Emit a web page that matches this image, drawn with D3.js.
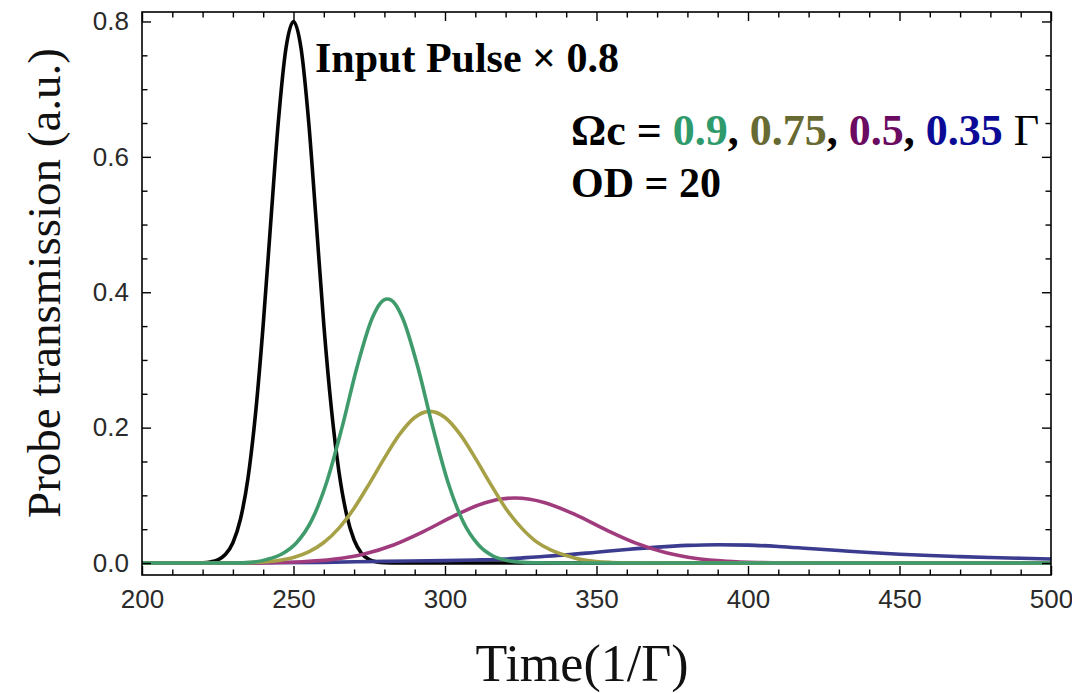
<!DOCTYPE html>
<html>
<head>
<meta charset="utf-8">
<script src="https://cdn.jsdelivr.net/npm/d3@7"></script>
<style>
  body { margin: 0; background: #fff; }
  svg { display: block; }
  .tick text { font-family: "Liberation Sans", Arial, sans-serif; font-size: 26px; fill: #2a2a2a; }
  .tick line { stroke: #000; stroke-width: 1.4; }
  .axisTitle { font-family: "Liberation Serif", "Times New Roman", serif; fill: #111; }
  .note { font-family: "Liberation Serif", "Times New Roman", serif; font-weight: bold; fill: #000; }
</style>
</head>
<body>
<div class="visualization"></div>
<script>
const canvaswidth = 1072;
const canvasheight = 693;
const plotleft = 142;
const plotright = 1051;
const plottop = 12;
const plotbottom = 575;

// x ticks (time in 1/Gamma) and y ticks (transmission)
const xMajorTicks = [200, 250, 300, 350, 400, 450, 500];
const xMinorTicks = [210, 220, 230, 240, 260, 270, 280, 290, 310, 320, 330, 340, 360, 370, 380, 390, 410, 420, 430, 440, 460, 470, 480, 490];
const yMajorTicks = [0.0, 0.2, 0.4, 0.6, 0.8];
const yMinorTicks = [0.05, 0.1, 0.15, 0.25, 0.3, 0.35, 0.45, 0.5, 0.55, 0.65, 0.7, 0.75];

// input pulse (x 0.8)
const inputTime = [200, 215, 220, 222.5, 225, 227.5, 230, 232.5, 235, 237.5, 240, 242.5, 245, 247.5, 250, 252.5, 255, 257.5, 260, 262.5, 265, 267.5, 270, 272.5, 275, 277.5, 280, 285, 500];
const inputValue = [0, 0, 0.0005, 0.0016, 0.0047, 0.0125, 0.030, 0.065, 0.126, 0.222, 0.352, 0.504, 0.652, 0.760, 0.800, 0.760, 0.652, 0.504, 0.352, 0.228, 0.135, 0.072, 0.034, 0.014, 0.005, 0.0017, 0.0005, 0, 0];

// Omega_c = 0.9
const greenTime = [200, 230, 236, 241, 246, 251, 256, 261, 266, 271, 276, 278.5, 281, 283.5, 286, 291, 296, 301, 306, 311, 316, 321, 326, 331, 340, 500];
const greenValue = [0, 0, 0.001, 0.005, 0.013, 0.03, 0.063, 0.12, 0.2, 0.29, 0.362, 0.383, 0.39, 0.383, 0.362, 0.29, 0.2, 0.119, 0.061, 0.027, 0.010, 0.0034, 0.001, 0.0003, 0, 0];

// Omega_c = 0.75
const oliveTime = [200, 230, 240, 245, 250, 255, 260, 265, 270, 275, 280, 285, 290, 295, 300, 305, 310, 315, 320, 325, 330, 335, 340, 345, 350, 355, 360, 380, 500];
const oliveValue = [0, 0, 0.0016, 0.0038, 0.0082, 0.0164, 0.0303, 0.0516, 0.081, 0.117, 0.155, 0.19, 0.215, 0.224, 0.215, 0.19, 0.155, 0.117, 0.081, 0.053, 0.032, 0.019, 0.011, 0.005, 0.002, 0.0008, 0.0003, 0, 0];

// Omega_c = 0.5
const purpleTime = [200, 230, 243, 253, 263, 273, 283, 293, 303, 313, 318, 323, 328, 333, 343, 353, 363, 373, 383, 393, 403, 413, 430, 500];
const purpleValue = [0, 0, 0.0006, 0.0019, 0.0054, 0.013, 0.0267, 0.0467, 0.0697, 0.0886, 0.0942, 0.096, 0.0942, 0.0891, 0.0714, 0.0493, 0.0294, 0.0151, 0.0067, 0.0026, 0.0008, 0.0002, 0, 0];

// Omega_c = 0.35
const blueTime = [200, 240, 260, 280, 300, 310, 320, 330, 340, 350, 360, 370, 380, 390, 400, 410, 420, 430, 440, 450, 460, 470, 480, 490, 500];
const blueValue = [0, 0.0003, 0.001, 0.0025, 0.0035, 0.0045, 0.006, 0.009, 0.012, 0.016, 0.020, 0.0235, 0.026, 0.027, 0.0265, 0.0245, 0.0215, 0.0185, 0.0155, 0.013, 0.011, 0.0095, 0.0082, 0.007, 0.006];

const seriesList = [
  { t: inputTime, v: inputValue, color: "#050505" },
  { t: blueTime, v: blueValue, color: "#3b3b8f" },
  { t: purpleTime, v: purpleValue, color: "#a03c7e" },
  { t: oliveTime, v: oliveValue, color: "#a6a047" },
  { t: greenTime, v: greenValue, color: "#3f9b6c" }
];

var svgCanvas = d3.select(".visualization").
append("svg").
attr("width", canvaswidth).
attr("height", canvasheight);

var xscale = d3.scaleLinear().domain([200, 500]).range([plotleft, plotright]);
var yscale = d3.scaleLinear().domain([-0.0177, 0.814]).range([plotbottom, plottop]);

svgCanvas.append("clipPath").attr("id", "plotclip").
append("rect").
attr("x", plotleft).attr("y", plottop).
attr("width", plotright - plotleft).attr("height", plotbottom - plottop);

var line = d3.line().
x(d => xscale(d[0])).
y(d => yscale(d[1])).
curve(d3.curveMonotoneX);

var curves = svgCanvas.append("g").attr("clip-path", "url(#plotclip)");
seriesList.forEach(s => {
  curves.append("path").
  datum(d3.zip(s.t, s.v)).
  attr("d", line).
  attr("fill", "none").
  attr("stroke", s.color).
  attr("stroke-width", 3.6).
  attr("stroke-linejoin", "round");
});

// ticks on all four sides, pointing inward
function addAxis(axis, tx, ty) {
  var g = svgCanvas.append("g").
  attr("transform", "translate(" + tx + "," + ty + ")").
  call(axis);
  g.select(".domain").remove();
  return g;
}

addAxis(d3.axisBottom(xscale).tickValues(xMajorTicks).tickSize(-9).tickPadding(15).tickFormat(d3.format("d")), 0, plotbottom);
addAxis(d3.axisBottom(xscale).tickValues(xMinorTicks).tickSize(-5.5).tickFormat(""), 0, plotbottom);
addAxis(d3.axisTop(xscale).tickValues(xMajorTicks).tickSize(-9).tickFormat(""), 0, plottop);
addAxis(d3.axisTop(xscale).tickValues(xMinorTicks).tickSize(-5.5).tickFormat(""), 0, plottop);

addAxis(d3.axisLeft(yscale).tickValues(yMajorTicks).tickSize(-9).tickPadding(13).tickFormat(d3.format(".1f")), plotleft, 0);
addAxis(d3.axisLeft(yscale).tickValues(yMinorTicks).tickSize(-5.5).tickFormat(""), plotleft, 0);
addAxis(d3.axisRight(yscale).tickValues(yMajorTicks).tickSize(-9).tickFormat(""), plotright, 0);
addAxis(d3.axisRight(yscale).tickValues(yMinorTicks).tickSize(-5.5).tickFormat(""), plotright, 0);

svgCanvas.append("rect").
attr("x", plotleft).attr("y", plottop).
attr("width", plotright - plotleft).attr("height", plotbottom - plottop).
attr("fill", "none").
attr("stroke", "#000").
attr("stroke-width", 1.6);

// axis titles
svgCanvas.append("text").
attr("class", "axisTitle").
attr("transform", "translate(60,283) rotate(-90)").
attr("text-anchor", "middle").
style("font-size", "47px").
text("Probe transmission (a.u.)");

svgCanvas.append("text").
attr("class", "axisTitle").
attr("x", 582).
attr("y", 681).
attr("text-anchor", "middle").
style("font-size", "52px").
text("Time(1/\u0393)");

// annotations
svgCanvas.append("text").
attr("class", "note").
attr("x", 315).
attr("y", 72).
style("font-size", "42px").
text("Input Pulse \u00d7 0.8");

var omega = svgCanvas.append("text").
attr("class", "note").
attr("x", 571).
attr("y", 145).
style("font-size", "44px");
omega.append("tspan").text("\u03a9c = ");
omega.append("tspan").attr("fill", "#2f9a6b").text("0.9");
omega.append("tspan").text(", ");
omega.append("tspan").attr("fill", "#676a32").text("0.75");
omega.append("tspan").text(", ");
omega.append("tspan").attr("fill", "#6a0a60").text("0.5");
omega.append("tspan").text(", ");
omega.append("tspan").attr("fill", "#0a0a96").text("0.35");
omega.append("tspan").style("font-weight", "normal").text(" \u0393");

svgCanvas.append("text").
attr("class", "note").
attr("x", 571).
attr("y", 197).
style("font-size", "42px").
text("OD = 20");
</script>
</body>
</html>
